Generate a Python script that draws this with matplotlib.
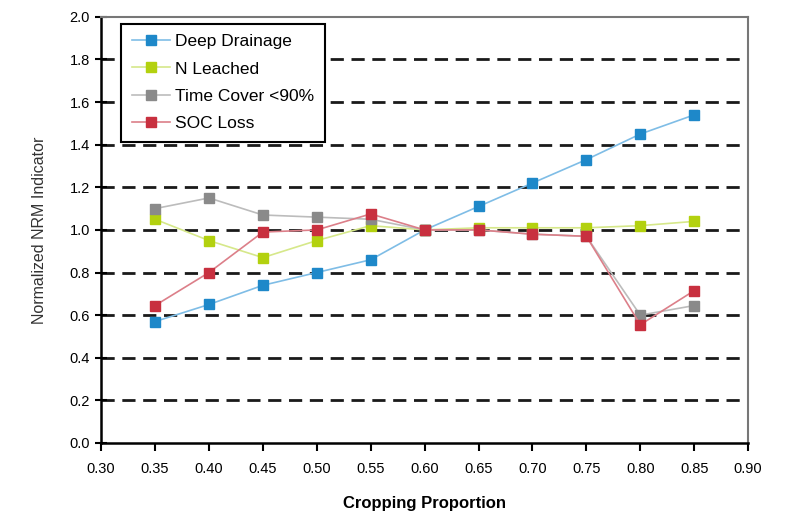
import matplotlib
matplotlib.use('Agg')
from matplotlib import pyplot as plt
import numpy as np

plt.rcParams['font.family'] = ['Liberation Sans', 'DejaVu Sans']
plt.rcParams['lines.scale_dashes'] = False

proportion = [0.35, 0.40, 0.45, 0.50, 0.55, 0.60, 0.65, 0.70, 0.75, 0.80, 0.85]
deep_drainage = [0.57, 0.65, 0.74, 0.80, 0.86, 1.00, 1.11, 1.22, 1.33, 1.45, 1.54]
n_leached = [1.05, 0.95, 0.87, 0.95, 1.02, 1.00, 1.01, 1.01, 1.01, 1.02, 1.04]
time_cover = [1.10, 1.15, 1.07, 1.06, 1.05, 1.00, 1.00, 0.98, 0.97, 0.60, 0.645]
soc_loss = [0.645, 0.80, 0.99, 1.00, 1.075, 1.00, 1.00, 0.98, 0.97, 0.555, 0.715]

series = [
    ('Deep Drainage', deep_drainage, '#1e88c9', '#7fbde6'),
    ('N Leached', n_leached, '#b3d10f', '#d6e88a'),
    ('Time Cover <90%', time_cover, '#8a8a8a', '#bcbcbc'),
    ('SOC Loss', soc_loss, '#c8303f', '#dc7f89'),
]

fig = plt.figure(figsize=(7.9, 5.19), dpi=100)
ax = fig.add_axes([0.128, 0.1465, 0.819, 0.821])

for y in np.arange(0.2, 1.81, 0.2):
    ax.axhline(y, color='#1a1a1a', lw=2.0, dashes=(9.5, 5.5), zorder=1)

for name, vals, mc, lc in series:
    ax.plot(proportion, vals, color=lc, lw=1.2, marker='s', markersize=7,
            markerfacecolor=mc, markeredgecolor=mc, label=name, zorder=3)

ax.set_xlim(0.30, 0.90)
ax.set_ylim(0.0, 2.0)
ax.set_xticks(np.arange(0.30, 0.901, 0.05))
ax.set_yticks(np.arange(0.0, 2.01, 0.2))
ax.xaxis.set_major_formatter(plt.FormatStrFormatter('%.2f'))
ax.yaxis.set_major_formatter(plt.FormatStrFormatter('%.1f'))
ax.tick_params(axis='x', direction='out', length=6, width=1.5, labelsize=10.5, pad=8)
ax.tick_params(axis='y', direction='inout', length=8, width=1.5, labelsize=10.5, pad=4)

for s in ['left', 'bottom']:
    ax.spines[s].set_linewidth(1.8)
    ax.spines[s].set_color('black')
for s in ['top', 'right']:
    ax.spines[s].set_linewidth(1.5)
    ax.spines[s].set_color('#777777')

ax.set_xlabel('Cropping Proportion', fontsize=12, fontweight='bold', labelpad=14)
ax.set_ylabel('Normalized NRM Indicator', fontsize=11.5, color='#333333', labelpad=16)

leg = ax.legend(loc='upper left', bbox_to_anchor=(0.031, 0.984), fontsize=12.5,
                frameon=True, fancybox=False, borderpad=0.6, labelspacing=0.7,
                handlelength=2.2, handletextpad=0.3, borderaxespad=0)
leg.get_frame().set_edgecolor('black')
leg.get_frame().set_linewidth(1.5)
leg.get_frame().set_alpha(1)

fig.savefig('out.png', dpi=100)
